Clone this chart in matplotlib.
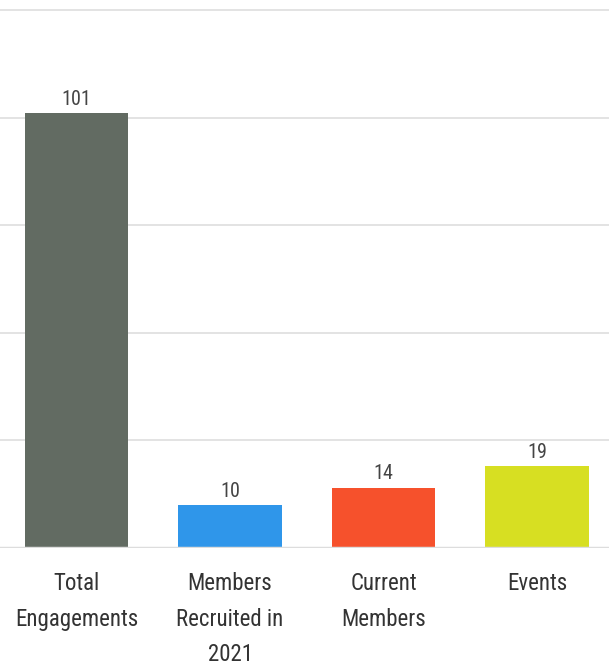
import matplotlib
matplotlib.use('Agg')
import matplotlib.pyplot as plt
from matplotlib import font_manager

categories = ['Total\nEngagements', 'Members\nRecruited in\n2021', 'Current\nMembers', 'Events']
values = [101, 10, 14, 19]
colors = ['#626b62', '#2f96ea', '#f6512c', '#d7df22']

names = {f.name for f in font_manager.fontManager.ttflist}
fam = 'DejaVu Sans'
for cand in ['Roboto Condensed', 'Liberation Sans Narrow', 'Open Sans Condensed', 'Noto Sans Condensed']:
    if cand in names:
        fam = cand
        break
plt.rcParams['font.family'] = [fam, 'DejaVu Sans']
plt.rcParams['font.stretch'] = 'condensed'

fig = plt.figure(figsize=(6.09, 6.65), dpi=100)
ax = fig.add_axes([0.0, 1 - 548 / 665, 1.0, 540 / 665])

x = range(len(categories))
ax.bar(x, values, width=0.675, color=colors, zorder=3)
for xi, v in zip(x, values):
    ax.text(xi, v + 1.0, str(v), ha='center', va='bottom', fontsize=14.5, color='#444444',
            fontstretch='condensed')

ax.set_ylim(0, 125.5)
ax.set_xlim(-0.5, 3.47)
for g in [25, 50, 75, 100, 125]:
    ax.axhline(g, color='#e3e3e3', lw=1.4, zorder=1)
ax.axhline(0, color='#dddddd', lw=2.5, zorder=4)

ax.set_xticks(list(x))
ax.set_xticklabels(categories, fontsize=16.5, color='#333333', linespacing=1.68,
                   fontstretch='condensed')
ax.tick_params(axis='x', length=0, pad=17.5)
ax.set_yticks([])
for s in ax.spines.values():
    s.set_visible(False)

fig.savefig('out.png', dpi=100)
